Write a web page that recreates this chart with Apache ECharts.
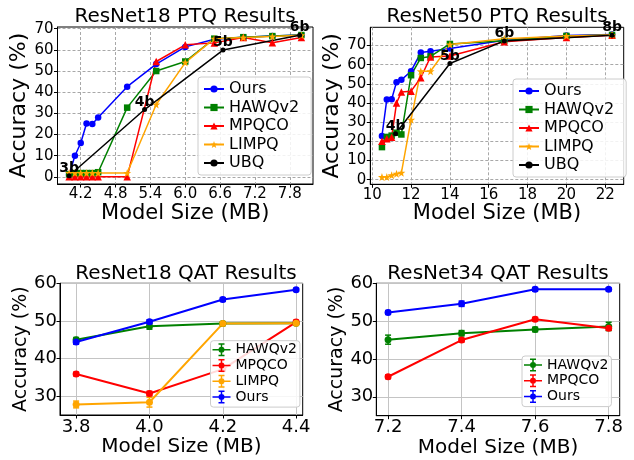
<!DOCTYPE html>
<html>
<head>
<meta charset="utf-8">
<script src="https://cdn.jsdelivr.net/npm/echarts@6/dist/echarts.min.js"></script>
<style>
  html, body { margin: 0; padding: 0; background: #fff; }
  #main { width: 634px; height: 460px; }
</style>
</head>
<body>
<div id="main"></div>
<script>
// ResNet18 PTQ
const r18Size = [4.0, 4.1, 4.2, 4.3, 4.4, 4.5, 5.0, 5.5, 6.0, 6.5, 7.0, 7.5, 8.0]
const r18Ours = [1.0, 10.0, 16.0, 25.2, 25.0, 28.0, 42.6, 53.3, 61.4, 65.0, 66.0, 66.5, 67.0]
const r18Hawq = [1.2, 1.8, 1.8, 1.8, 1.8, 2.2, 32.7, 50.0, 54.5, 65.3, 66.0, 66.5, 67.0]
const r18Mpqco = [0.0, 0.0, 0.0, 0.0, 0.0, 0.0, 0.0, 54.5, 62.4, 63.3, 65.8, 63.4, 65.8]
const r18Limpq = [1.8, 1.8, 1.8, 1.8, 1.8, 1.8, 1.8, 34.2, 54.0, 65.3, 65.8, 66.3, 66.9]
const r18UbqSize = [4.0, 5.3, 6.65, 7.97]
const r18Ubq = [0.5, 31.8, 59.9, 66.9]
const r18UbqBits = ['3b', '4b', '5b', '6b']
const r18XTicks = [4.2, 4.8, 5.4, 6.0, 6.6, 7.2, 7.8]
const r18YTicks = [0, 10, 20, 30, 40, 50, 60, 70]

// ResNet50 PTQ
const r50Size = [10.5, 10.75, 11.0, 11.25, 11.5, 12.0, 12.5, 13.0, 14.0, 16.8, 20.0, 22.35]
const r50Ours = [22.8, 41.9, 42.0, 50.9, 52.1, 56.6, 66.3, 67.0, 68.4, 72.8, 75.2, 75.8]
const r50Hawq = [17.0, 22.3, 23.0, 24.5, 23.6, 54.5, 63.5, 64.3, 70.8, 72.5, 75.0, 75.5]
const r50Mpqco = [20.1, 21.4, 22.2, 40.0, 45.7, 46.2, 53.2, 64.0, 64.5, 72.0, 74.2, 75.3]
const r50Limpq = [1.4, 1.4, 2.3, 3.1, 3.6, 31.3, 56.6, 56.6, 70.5, 73.5, 75.0, 75.5]
const r50UbqSize = [11.2, 14.0, 16.8, 22.35]
const r50Ubq = [24.0, 60.6, 72.4, 75.3]
const r50UbqBits = ['4b', '5b', '6b', '8b']
const r50XTicks = [10, 12, 14, 16, 18, 20, 22]
const r50YTicks = [0, 10, 20, 30, 40, 50, 60, 70]

// ResNet18 QAT
const q18Size = [3.8, 4.0, 4.2, 4.4]
const q18Hawq = [45.0, 48.6, 49.3, 49.4]
const q18HawqErr = [0.6, 0.8, 0.5, 0.4]
const q18Mpqco = [35.9, 30.7, 37.2, 49.7]
const q18MpqcoErr = [0.5, 0.6, 0.5, 0.5]
const q18Limpq = [27.8, 28.4, 49.3, 49.4]
const q18LimpqErr = [0.9, 1.3, 0.5, 0.4]
const q18Ours = [44.4, 49.8, 55.7, 58.3]
const q18OursErr = [0.6, 0.5, 0.5, 0.4]
const q18XTicks = [3.8, 4.0, 4.2, 4.4]

// ResNet34 QAT
const q34Size = [7.2, 7.4, 7.6, 7.8]
const q34Hawq = [45.1, 46.8, 47.8, 48.6]
const q34HawqErr = [1.2, 0.7, 0.6, 1.1]
const q34Mpqco = [35.3, 45.0, 50.5, 48.1]
const q34MpqcoErr = [0.5, 0.5, 0.5, 0.5]
const q34Ours = [52.3, 54.6, 58.4, 58.4]
const q34OursErr = [0.5, 0.7, 0.5, 0.4]
const q34XTicks = [7.2, 7.4, 7.6, 7.8]
const qatYTicks = [30, 40, 50, 60]

const FONT = 'DejaVu Sans'
const STAR = 'path://M10,0L12.35,6.76L19.51,6.91L13.8,11.24L15.88,18.09L10,14L4.12,18.09L6.2,11.24L0.49,6.91L7.65,6.76Z'
const ERR_ICON = 'path://M0,5.75h18v1.5h-18z M8.25,0h1.5v13h-1.5z M6,0h6v1.5h-6z M6,11.5h6v1.5h-6z M6,6.5a3,3 0 1,1 6,0a3,3 0 1,1 -6,0z'

const pts = (xs, ys) => xs.map((x, i) => [x, ys[i]])
const errPts = (xs, ys, es) => xs.map((x, i) => [x, ys[i] - es[i], ys[i] + es[i]])

function line (name, gi, xs, ys, color, symbol, size, width) {
  return {
    name: name,
    type: 'line',
    xAxisIndex: gi,
    yAxisIndex: gi,
    data: pts(xs, ys),
    symbol: symbol,
    symbolSize: size,
    showSymbol: true,
    animation: false,
    lineStyle: { color: color, width: width },
    itemStyle: { color: color, borderWidth: 0 }
  }
}

function ubq (gi, xs, ys, bits) {
  const s = line('UBQ', gi, xs, ys, '#000000', 'circle', 5, 1.5)
  s.label = {
    show: true,
    position: 'top',
    distance: -2,
    formatter: (p) => bits[p.dataIndex],
    fontSize: 14,
    fontWeight: 'bold',
    fontFamily: FONT,
    color: '#000'
  }
  return s
}

function errBar (gi, xs, ys, es, color) {
  return {
    type: 'custom',
    xAxisIndex: gi,
    yAxisIndex: gi,
    data: errPts(xs, ys, es),
    encode: { x: 0, y: [1, 2] },
    itemStyle: { color: color },
    animation: false,
    renderItem: function (params, api) {
      const lo = api.coord([api.value(0), api.value(1)])
      const hi = api.coord([api.value(0), api.value(2)])
      const st = { stroke: color, lineWidth: 1.5, fill: null }
      return {
        type: 'group',
        children: [
          { type: 'line', shape: { x1: lo[0], y1: lo[1], x2: hi[0], y2: hi[1] }, style: st },
          { type: 'line', shape: { x1: lo[0] - 3, y1: lo[1], x2: lo[0] + 3, y2: lo[1] }, style: st },
          { type: 'line', shape: { x1: hi[0] - 3, y1: hi[1], x2: hi[0] + 3, y2: hi[1] }, style: st }
        ]
      }
    }
  }
}

function axis (gi, min, max, ticks, digits, fontSize, margin, name, nameSize, nameGap, split) {
  return {
    type: 'value',
    gridIndex: gi,
    min: min,
    max: max,
    name: name,
    nameLocation: 'middle',
    nameGap: nameGap,
    nameTextStyle: { fontSize: nameSize, color: '#000', fontFamily: FONT },
    axisLine: { show: true, onZero: false, lineStyle: { color: '#000', width: 1 } },
    axisTick: { show: true, customValues: ticks, length: 3.5, lineStyle: { color: '#000', width: 1 } },
    axisLabel: {
      customValues: ticks,
      formatter: (v) => Number(v).toFixed(digits),
      fontSize: fontSize,
      color: '#000',
      fontFamily: FONT,
      margin: margin
    },
    splitLine: { show: true, lineStyle: split }
  }
}

const dashGrid = { color: '#a8a8a8', width: 1, type: [3, 2] }
const solidGrid = { color: '#c4c4c4', width: 1, type: 'solid' }

function legend (left, top, names, fontSize, itemW, itemH, gap, padding, icon) {
  return {
    orient: 'vertical',
    left: left,
    top: top,
    itemWidth: itemW,
    itemHeight: itemH,
    itemGap: gap,
    padding: padding,
    selectedMode: false,
    data: icon ? names.map((n) => ({ name: n, icon: icon })) : names,
    textStyle: { fontSize: fontSize, lineHeight: fontSize, color: '#000', fontFamily: FONT },
    backgroundColor: 'rgba(255,255,255,0.85)',
    borderColor: '#cccccc',
    borderWidth: 1,
    borderRadius: 3
  }
}

function title (text, cx, top) {
  return {
    text: text,
    left: cx,
    top: top,
    textAlign: 'center',
    padding: 0,
    textStyle: { fontSize: 20, fontWeight: 'normal', color: '#000', fontFamily: FONT, lineHeight: 20 }
  }
}

const chart = echarts.init(document.getElementById('main'))

const option = {
  animation: false,
  backgroundColor: '#fff',
  textStyle: { fontFamily: FONT },
  title: [
    title('ResNet18 PTQ Results', 185, 7),
    title('ResNet50 PTQ Results', 497, 7),
    title('ResNet18 QAT Results', 186, 264),
    title('ResNet34 QAT Results', 498, 264)
  ],
  grid: [
    { left: 57.5, top: 27, width: 255.5, height: 157, show: true, borderColor: '#000', borderWidth: 1 },
    { left: 370.3, top: 27.3, width: 253.4, height: 157, show: true, borderColor: '#000', borderWidth: 1 },
    { left: 60, top: 283.3, width: 242.7, height: 131.7, show: true, borderColor: '#000', borderWidth: 1 },
    { left: 376.3, top: 283.3, width: 243.4, height: 132.4, show: true, borderColor: '#000', borderWidth: 1 }
  ],
  xAxis: [
    axis(0, 3.8, 8.2, r18XTicks, 1, 15, 3, 'Model Size (MB)', 21, 8, dashGrid),
    axis(1, 9.9, 22.95, r50XTicks, 0, 15, 3, 'Model Size (MB)', 21, 8, dashGrid),
    axis(2, 3.756, 4.418, q18XTicks, 1, 18, 3, 'Model Size (MB)', 20, 17, solidGrid),
    axis(3, 7.168, 7.83, q34XTicks, 1, 18, 3, 'Model Size (MB)', 20, 17, solidGrid)
  ],
  yAxis: [
    axis(0, -3.37, 70.8, r18YTicks, 0, 15, 4, 'Accuracy (%)', 22, 20, dashGrid),
    axis(1, -2.4, 79.5, r50YTicks, 0, 15, 4, 'Accuracy (%)', 22, 18, dashGrid),
    axis(2, 25, 60, qatYTicks, 0, 18, 3, 'Accuracy (%)', 19, 21, solidGrid),
    axis(3, 25, 60, qatYTicks, 0, 18, 3, 'Accuracy (%)', 19, 29, solidGrid)
  ],
  legend: [
    legend(198, 77, ['Ours', 'HAWQv2', 'MPQCO', 'LIMPQ', 'UBQ'], 16, 20, 9, 2.5, [4, 12, 4, 5]),
    legend(513, 79, ['Ours', 'HAWQv2', 'MPQCO', 'LIMPQ', 'UBQ'], 16, 20, 9, 2.5, [4, 12, 4, 5]),
    legend(210.5, 340.7, ['HAWQv2', 'MPQCO', 'LIMPQ', 'Ours'], 14, 18, 13, 1.8, [2, 3, 3, 2], ERR_ICON),
    legend(522, 356, ['HAWQv2', 'MPQCO', 'Ours'], 14, 18, 13, 1.8, [2, 3, 3, 2], ERR_ICON)
  ],
  series: [
    line('Ours', 0, r18Size, r18Ours, '#0000ff', 'circle', 6.5, 1.5),
    line('HAWQv2', 0, r18Size, r18Hawq, '#008000', 'rect', 6.5, 1.5),
    line('MPQCO', 0, r18Size, r18Mpqco, '#ff0000', 'triangle', 7.5, 1.5),
    line('LIMPQ', 0, r18Size, r18Limpq, '#ffa500', STAR, 8, 1.5),
    ubq(0, r18UbqSize, r18Ubq, r18UbqBits),

    line('Ours', 1, r50Size, r50Ours, '#0000ff', 'circle', 6.5, 1.5),
    line('HAWQv2', 1, r50Size, r50Hawq, '#008000', 'rect', 6.5, 1.5),
    line('MPQCO', 1, r50Size, r50Mpqco, '#ff0000', 'triangle', 7.5, 1.5),
    line('LIMPQ', 1, r50Size, r50Limpq, '#ffa500', STAR, 8, 1.5),
    ubq(1, r50UbqSize, r50Ubq, r50UbqBits),

    errBar(2, q18Size, q18Hawq, q18HawqErr, '#008000'),
    line('HAWQv2', 2, q18Size, q18Hawq, '#008000', 'circle', 7, 2),
    errBar(2, q18Size, q18Mpqco, q18MpqcoErr, '#ff0000'),
    line('MPQCO', 2, q18Size, q18Mpqco, '#ff0000', 'circle', 7, 2),
    errBar(2, q18Size, q18Limpq, q18LimpqErr, '#ffa500'),
    line('LIMPQ', 2, q18Size, q18Limpq, '#ffa500', 'circle', 7, 2),
    errBar(2, q18Size, q18Ours, q18OursErr, '#0000ff'),
    line('Ours', 2, q18Size, q18Ours, '#0000ff', 'circle', 7, 2),

    errBar(3, q34Size, q34Hawq, q34HawqErr, '#008000'),
    line('HAWQv2', 3, q34Size, q34Hawq, '#008000', 'circle', 7, 2),
    errBar(3, q34Size, q34Mpqco, q34MpqcoErr, '#ff0000'),
    line('MPQCO', 3, q34Size, q34Mpqco, '#ff0000', 'circle', 7, 2),
    errBar(3, q34Size, q34Ours, q34OursErr, '#0000ff'),
    line('Ours', 3, q34Size, q34Ours, '#0000ff', 'circle', 7, 2)
  ]
}

chart.setOption(option)
</script>
</body>
</html>
